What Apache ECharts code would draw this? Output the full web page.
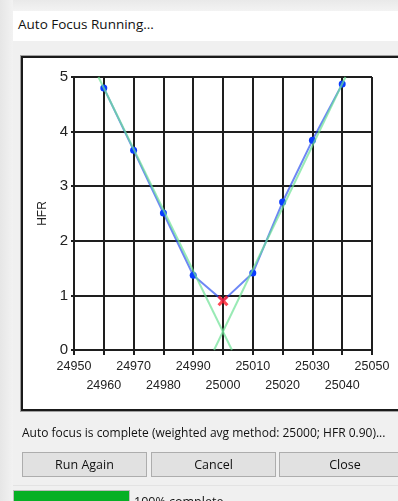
<!DOCTYPE html>
<html>
<head>
<meta charset="utf-8">
<script src="https://cdn.jsdelivr.net/npm/echarts@6/dist/echarts.min.js"></script>
<style>
  html, body { margin: 0; padding: 0; width: 398px; height: 501px; overflow: hidden;
    background: #f0f0f0; font-family: "Open Sans", "Noto Sans", "Liberation Sans", sans-serif; }
  .frame { position: absolute; left: 0; top: 0; width: 398px; height: 501px; overflow: hidden; }
  .shadow { position: absolute; left: 0; top: 0; width: 13px; height: 501px;
    background: linear-gradient(to right, #e6e6e6, #f2f2f2); }
  .topstrip { position: absolute; left: 13px; top: 0; width: 385px; height: 11px;
    background: linear-gradient(to bottom, #e9e9e9, #f3f3f3); }
  .titlebar { position: absolute; left: 13px; top: 11px; width: 385px; height: 30px; background: #fff; }
  .title { position: absolute; left: 18px; top: 15px; font-size: 13.5px; color: #111; }
  .panel { position: absolute; left: 21px; top: 56px; width: 400px; height: 351px;
    background: #fff; border: 2px solid #1a1a1a; border-right: none; box-shadow: 0 0 0 1px #a0a0a0; }
  #chart { position: absolute; left: 0; top: 0; width: 398px; height: 501px; }
  .status { position: absolute; left: 22px; top: 424px; font-size: 12px; color: #111; white-space: nowrap; }
  .btn { position: absolute; top: 452px; height: 23px; background: #e1e1e1; border: 1px solid #adadad;
    font-size: 12.5px; color: #111; text-align: center; line-height: 23px; box-sizing: content-box; }
  .sep { position: absolute; left: 13px; top: 485px; width: 385px; height: 1px; background: #e3e3e3; }
  .progress { position: absolute; left: 13px; top: 490px; width: 115px; height: 14px;
    background: #06b025; border: 1px solid #bcbcbc; }
  .pct { position: absolute; left: 134px; top: 493px; font-size: 12.5px; color: #111; white-space: nowrap; }
</style>
</head>
<body>
<div class="frame">
<div class="shadow"></div>
<div class="topstrip"></div>
<div class="titlebar"></div>
<div class="title">Auto Focus Running...</div>
<div class="panel"></div>
<div id="chart"></div>
<div class="status">Auto focus is complete (weighted avg method: 25000; HFR 0.90)...</div>
<div class="btn" style="left:22px;width:123px;">Run Again</div>
<div class="btn" style="left:151px;width:123px;">Cancel</div>
<div class="btn" style="left:279px;width:130px;">Close</div>
<div class="sep"></div>
<div class="progress"></div>
<div class="pct">100% complete</div>
</div>
<script>
// Focuser positions and measured HFR values
const positions = [24960, 24970, 24980, 24990, 25000, 25010, 25020, 25030, 25040];
const hfrValues = [4.80, 3.66, 2.51, 1.37, 0.90, 1.41, 2.71, 3.84, 4.87];

// Best focus result
const bestPosition = 25000;
const bestHfr = 0.90;

// Endpoints of the left and right trend lines [position, HFR]
const leftTrend = [[24958.2, 5], [25003.0, 0]];
const rightTrend = [[24997.0, 0], [25041.1, 5]];

// Axis ranges
const xMin = 24950, xMax = 25050, xStep = 10;
const yMin = 0, yMax = 5, yStep = 1;

const measured = positions.map((p, i) => ({
  value: [p, hfrValues[i]],
  symbolSize: p === bestPosition ? 0 : 7
}));

const gridColor = '#1e1e1e';
const labelFont = 'Liberation Sans, Arial, sans-serif';
const isOddStep = (v) => Math.round((v - xMin) / xStep) % 2 === 1;

// Two overlaid x axes give the staggered two-row tick labels
const xBase = {
  type: 'value', min: xMin, max: xMax, interval: xStep, position: 'bottom'
};

const chart = echarts.init(document.getElementById('chart'), null, { renderer: 'canvas' });
chart.setOption({
  backgroundColor: 'transparent',
  animation: false,
  grid: { left: 74, right: 26, top: 77, bottom: 151, containLabel: false },
  xAxis: [
    Object.assign({}, xBase, {
      axisLine: { show: true, lineStyle: { color: gridColor, width: 2 } },
      axisTick: { show: true, length: 5, lineStyle: { color: gridColor, width: 2 } },
      splitLine: { show: true, lineStyle: { color: gridColor, width: 2 } },
      axisLabel: {
        color: '#222', fontSize: 12.5, fontFamily: labelFont, margin: 10,
        hideOverlap: false, showMinLabel: true, showMaxLabel: true,
        formatter: (v) => (isOddStep(v) ? '' : '' + v)
      }
    }),
    Object.assign({}, xBase, {
      axisLine: { show: false },
      axisTick: { show: false },
      splitLine: { show: false },
      axisLabel: {
        color: '#222', fontSize: 12.5, fontFamily: labelFont, margin: 29,
        hideOverlap: false, showMinLabel: true, showMaxLabel: true,
        formatter: (v) => (isOddStep(v) ? '' + v : '')
      }
    })
  ],
  yAxis: {
    type: 'value', min: yMin, max: yMax, interval: yStep,
    name: 'HFR', nameLocation: 'middle', nameGap: 25, nameRotate: 90,
    nameTextStyle: { color: '#222', fontSize: 12, fontFamily: labelFont },
    axisLine: { show: true, lineStyle: { color: gridColor, width: 2 } },
    axisTick: { show: true, length: 3, lineStyle: { color: gridColor, width: 2 } },
    splitLine: { show: true, lineStyle: { color: gridColor, width: 2 } },
    axisLabel: { color: '#222', fontSize: 15, fontFamily: labelFont, margin: 6 }
  },
  series: [
    {
      type: 'line', data: measured, z: 3,
      symbol: 'circle',
      itemStyle: { color: '#0a3cff' },
      lineStyle: { color: 'rgba(30,70,240,0.65)', width: 2 }
    },
    {
      type: 'line', data: leftTrend, symbol: 'none', z: 4, clip: true,
      lineStyle: { color: 'rgba(110,225,150,0.7)', width: 2 }
    },
    {
      type: 'line', data: rightTrend, symbol: 'none', z: 4, clip: true,
      lineStyle: { color: 'rgba(110,225,150,0.7)', width: 2 }
    },
    {
      type: 'scatter', z: 5,
      data: [[bestPosition, bestHfr]],
      symbol: 'path://M2,0L5,3L8,0L10,2L7,5L10,8L8,10L5,7L2,10L0,8L3,5L0,2Z',
      symbolSize: 11,
      itemStyle: { color: '#ff1a2a' }
    }
  ]
});
</script>
</body>
</html>
